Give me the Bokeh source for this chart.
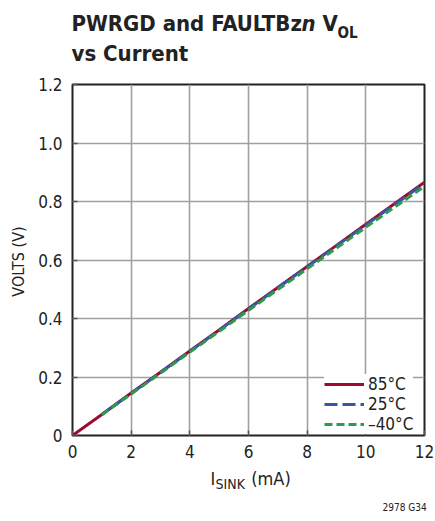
from bokeh.plotting import figure
from bokeh.models import (Legend, LegendItem, Label, FixedTicker, PrintfTickFormatter, Range1d)
from bokeh.embed import file_html
from bokeh.resources import INLINE

# ---- data ----
current_85 = [0, 1, 2, 3, 4, 5, 6, 7, 8, 9, 10, 11, 12]
volts_85 = [0, 0.072, 0.145, 0.216, 0.289, 0.361, 0.434, 0.506, 0.578, 0.650, 0.722, 0.794, 0.866]
current_25 = [1, 2, 3, 4, 5, 6, 7, 8, 9, 10, 11, 12]
volts_25 = [0.072, 0.144, 0.216, 0.288, 0.360, 0.433, 0.505, 0.577, 0.648, 0.720, 0.791, 0.862]
current_m40 = [1, 2, 3, 4, 5, 6, 7, 8, 9, 10, 11, 12]
volts_m40 = [0.071, 0.142, 0.213, 0.285, 0.356, 0.428, 0.499, 0.570, 0.641, 0.712, 0.782, 0.852]
series_labels = ["85°C", "25°C", "–40°C"]
x_ticks = [0, 2, 4, 6, 8, 10, 12]
y_ticks = [0, 0.2, 0.4, 0.6, 0.8, 1.0, 1.2]

FONT = "DejaVu Sans Condensed"
RED = "#9e0b2f"
BLUE = "#3b55a6"
GREEN = "#2e9a4c"
NB = "\u00a0"

W, H = 434, 519
p = figure(width=W, height=H, output_backend="svg", toolbar_location=None,
           x_range=Range1d(0, 12), y_range=Range1d(0, 1.2),
           min_border_left=72, min_border_right=10, min_border_top=84, min_border_bottom=84)

p.outline_line_color = "#222222"
p.outline_line_width = 2
p.background_fill_color = "white"
p.border_fill_color = "white"

for ax in (p.xaxis[0], p.yaxis[0]):
    ax.axis_line_color = None
    ax.major_tick_in = 5
    ax.major_tick_out = 0
    ax.major_tick_line_color = "#555555"
    ax.major_tick_line_width = 1.5
    ax.minor_tick_line_color = None
    ax.major_label_text_font = FONT
    ax.major_label_text_font_size = "17px"
    ax.major_label_text_color = "#222222"

p.xaxis[0].ticker = FixedTicker(ticks=x_ticks)
p.yaxis[0].ticker = FixedTicker(ticks=y_ticks)
p.yaxis[0].formatter = PrintfTickFormatter(format="%.1f")
p.yaxis[0].major_label_overrides = {0: "0"}
p.xaxis[0].major_label_standoff = 9
p.yaxis[0].major_label_standoff = 10

p.xgrid.ticker = FixedTicker(ticks=x_ticks)
p.ygrid.ticker = FixedTicker(ticks=y_ticks)
for g in (p.xgrid[0], p.ygrid[0]):
    g.grid_line_color = "#a0a0a0"
    g.grid_line_width = 1.6

r85 = p.line(current_85, volts_85, line_color=RED, line_width=3)
r25 = p.line(current_25, volts_25, line_color=BLUE, line_width=3, line_dash="13 5")
rm40 = p.line(current_m40, volts_m40, line_color=GREEN, line_width=3, line_dash="8 4")

legend = Legend(items=[LegendItem(label=series_labels[0], renderers=[r85]),
                       LegendItem(label=series_labels[1], renderers=[r25]),
                       LegendItem(label=series_labels[2], renderers=[rm40])],
                location=(252, 1), glyph_width=40, glyph_height=18, label_height=18,
                label_standoff=4, spacing=0, padding=4, margin=0,
                label_text_font=FONT, label_text_font_size="17px", label_text_color="#222222",
                border_line_color=None, background_fill_color="white", background_fill_alpha=1)
p.add_layout(legend)

def lab(panel, text, x, y, size, bold=True, italic=False, align="left", baseline="alphabetic", angle=0):
    style = "bold italic" if (bold and italic) else ("bold" if bold else ("italic" if italic else "normal"))
    p.add_layout(Label(x=x, y=y, x_units="screen", y_units="screen", text=text,
                       text_font=FONT, text_font_size=size, text_font_style=style,
                       text_color="#222222", text_align=align, text_baseline=baseline, angle=angle),
                 panel)

# title (above panel, stacked outward from the frame)
lab("above", "PWRGD and FAULTBz" + NB * 3 + "V", -1, 61, "22px")
lab("above", "vs Current", -1, 6, "22px")
lab("above", "OL", 265, 2, "15px")

# left panel: y-axis label and the italic n of the title
lab("left", "VOLTS (V)", 2, 174, "16px", bold=False, align="center", baseline="middle", angle=1.5708)
lab("left", "n", 299, 412, "22px", italic=True)

# below panel: x-axis label with subscript, footnote
lab("below", "I" + NB * 7 + "(mA)", 138, 3, "18px", bold=False)
lab("below", "SINK", 143, 14, "14px", bold=False)
lab("below", "2978 G34", 310, 1, "10px", bold=False)

open("out.html", "w").write(file_html(p, INLINE))
